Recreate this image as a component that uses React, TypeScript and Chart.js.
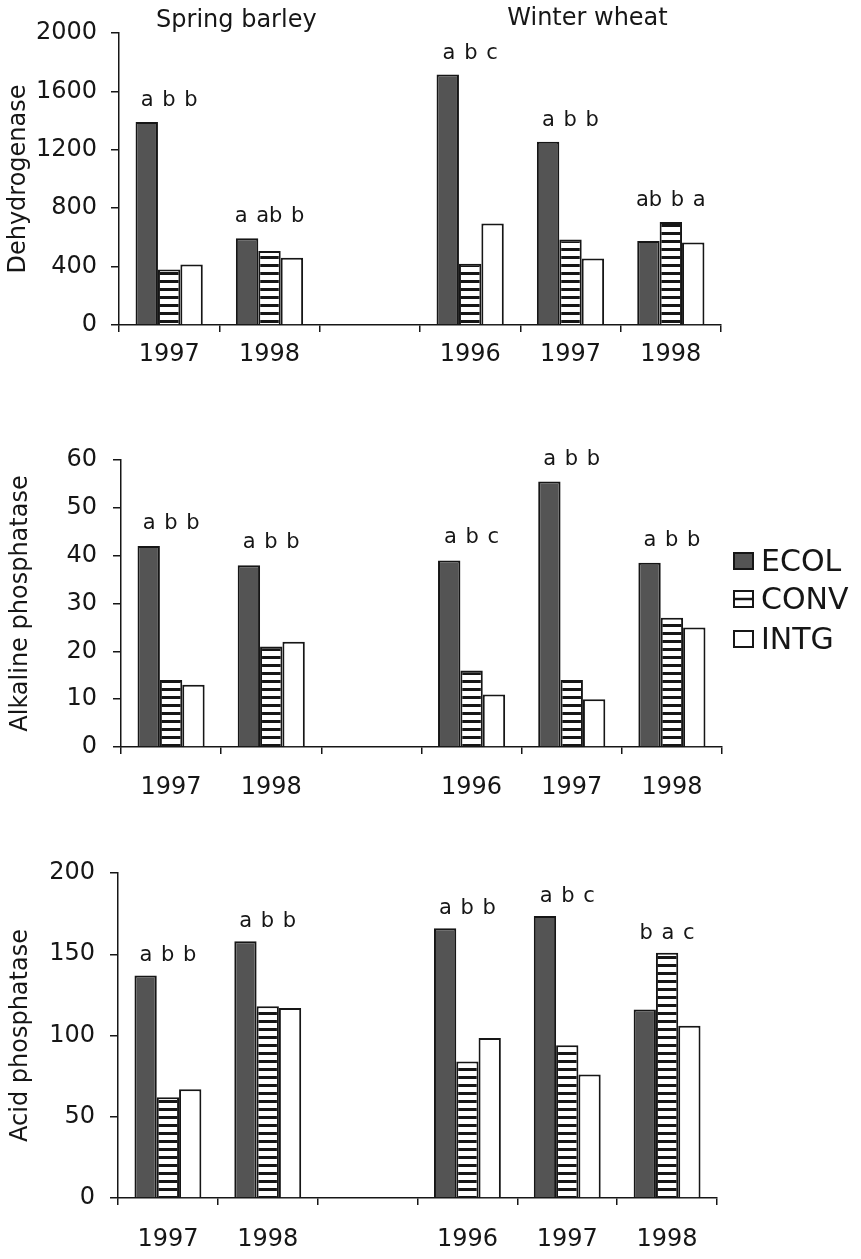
import React, { useEffect, useRef } from 'react';
import { Chart, registerables } from 'chart.js';

Chart.register(...registerables);

// ---------- data ----------
const categories = ['1997', '1998', '', '1996', '1997', '1998'];
const seriesNames = ['ECOL', 'CONV', 'INTG'];
const groupTitles = ['Spring barley', 'Winter wheat'];

const dehydTitle = 'Dehydrogenase';
const dehydEcol = [1390, 595, null, 1715, 1255, 575];
const dehydConv = [380, 507, null, 420, 585, 705];
const dehydIntg = [415, 460, null, 695, 455, 565];
const dehydLetters = ['a b b', 'a ab b', '', 'a b c', 'a b b', 'ab b a'];
const dehydMax = 2000;
const dehydStep = 400;

const alkTitle = 'Alkaline phosphatase';
const alkEcol = [42, 38, null, 39, 55.5, 38.5];
const alkConv = [14, 21, null, 16, 14, 27];
const alkIntg = [13, 22, null, 11, 10, 25];
const alkLetters = ['a b b', 'a b b', '', 'a b c', 'a b b', 'a b b'];
const alkMax = 60;
const alkStep = 10;

const acidTitle = 'Acid phosphatase';
const acidEcol = [137, 158, null, 166, 173.5, 116];
const acidConv = [62, 118, null, 84, 94, 151];
const acidIntg = [67, 117, null, 98.5, 76, 106];
const acidLetters = ['a b b', 'a b b', '', 'a b b', 'a b c', 'b a c'];
const acidMax = 200;
const acidStep = 50;

// ---------- styles ----------
const FONT = "'DejaVu Sans', 'Liberation Sans', Arial, sans-serif";
const INK = '#161616';
const DARK = '#545454';
const W = 861;

function makeStripe(): CanvasPattern | string {
  const c = document.createElement('canvas');
  c.width = 8;
  c.height = 8;
  const g = c.getContext('2d');
  if (!g) return '#fff';
  g.fillStyle = '#ffffff';
  g.fillRect(0, 0, 8, 8);
  g.fillStyle = INK;
  g.fillRect(0, 0, 8, 3);
  return g.createPattern(c, 'repeat') || '#fff';
}

type PanelCfg = {
  top: number;
  height: number;
  title: string;
  ecol: (number | null)[];
  conv: (number | null)[];
  intg: (number | null)[];
  letters: string[];
  max: number;
  step: number;
  area: { left: number; right: number; top: number; bottom: number };
  xPad: number;
  yPad: number;
  titlePad: number;
  letterGap: number;
  showGroupTitles?: boolean;
  showLegend?: boolean;
};

function Panel(p: PanelCfg) {
  const ref = useRef<HTMLCanvasElement | null>(null);

  useEffect(() => {
    const canvas = ref.current;
    if (!canvas) return;
    const stripe = makeStripe();

    const lettersPlugin = {
      id: 'sigLetters',
      afterDatasetsDraw(chart: any) {
        const ctx = chart.ctx;
        ctx.save();
        ctx.font = `21px ${FONT}`;
        ctx.fillStyle = INK;
        ctx.textAlign = 'center';
        ctx.textBaseline = 'alphabetic';
        try { (ctx as any).wordSpacing = '2px'; } catch (e) { /* ignore */ }
        p.letters.forEach((txt, i) => {
          if (!txt) return;
          let minY = Infinity;
          let minX = Infinity;
          let maxX = -Infinity;
          for (let d = 0; d < 3; d++) {
            const el: any = chart.getDatasetMeta(d).data[i];
            if (!el || !isFinite(el.y)) continue;
            minY = Math.min(minY, el.y);
            minX = Math.min(minX, el.x - el.width / 2);
            maxX = Math.max(maxX, el.x + el.width / 2);
          }
          if (!isFinite(minY)) return;
          ctx.fillText(txt, (minX + maxX) / 2, minY - p.letterGap);
        });
        ctx.restore();
      },
    };

    const titlesPlugin = {
      id: 'groupTitles',
      afterDraw(chart: any) {
        if (!p.showGroupTitles) return;
        const ctx = chart.ctx;
        const xs = chart.scales.x;
        const ca = chart.chartArea;
        ctx.save();
        ctx.font = `24px ${FONT}`;
        ctx.fillStyle = INK;
        ctx.textAlign = 'center';
        ctx.textBaseline = 'alphabetic';
        const springX = (xs.getPixelForValue(0) + xs.getPixelForValue(1)) / 2 + 17;
        const winterX = xs.getPixelForValue(4) + 17;
        ctx.fillText(groupTitles[0], springX, ca.top - 6);
        ctx.fillText(groupTitles[1], winterX, ca.top - 8);
        ctx.restore();
      },
    };

    const legendPlugin = {
      id: 'sideLegend',
      afterDraw(chart: any) {
        if (!p.showLegend) return;
        const ctx = chart.ctx;
        const ca = chart.chartArea;
        ctx.save();
        const bx = ca.right + 11;
        const rowTops = [92, 130, 170];
        ctx.font = `30px ${FONT}`;
        ctx.textBaseline = 'alphabetic';
        ctx.textAlign = 'left';
        seriesNames.forEach((name, k) => {
          const y = ca.top + rowTops[k];
          ctx.lineWidth = 2;
          ctx.strokeStyle = INK;
          ctx.fillStyle = k === 0 ? DARK : '#ffffff';
          ctx.fillRect(bx, y, 21, 18);
          ctx.strokeRect(bx + 1, y + 1, 19, 16);
          if (k === 1) {
            ctx.beginPath();
            ctx.moveTo(bx, y + 9);
            ctx.lineTo(bx + 21, y + 9);
            ctx.lineWidth = 2.5;
            ctx.stroke();
          }
          ctx.fillStyle = INK;
          ctx.fillText(name, bx + 28, y + 19);
        });
        ctx.restore();
      },
    };

    const xHeight = p.height - 2 - p.area.bottom;

    const chart = new Chart(canvas, {
      type: 'bar',
      data: {
        labels: categories,
        datasets: [
          { label: seriesNames[0], data: p.ecol as any, backgroundColor: DARK, borderColor: INK, borderWidth: 2 },
          { label: seriesNames[1], data: p.conv as any, backgroundColor: stripe as any, borderColor: INK, borderWidth: 2 },
          { label: seriesNames[2], data: p.intg as any, backgroundColor: '#ffffff', borderColor: INK, borderWidth: 2 },
        ],
      },
      options: {
        responsive: false,
        maintainAspectRatio: false,
        animation: false,
        events: [],
        layout: { padding: { top: p.area.top, left: 0, right: W - p.area.right, bottom: 2 } },
        datasets: { bar: { categoryPercentage: 0.67, barPercentage: 1 } } as any,
        plugins: { legend: { display: false }, tooltip: { enabled: false }, title: { display: false } },
        scales: {
          x: {
            grid: { offset: true, drawOnChartArea: false, color: INK, lineWidth: 1.5, tickLength: 7 },
            border: { display: true, color: INK, width: 1.5 },
            ticks: { color: INK, font: { family: FONT, size: 24 }, padding: p.xPad, maxRotation: 0, autoSkip: false },
            afterFit: (s: any) => { s.height = xHeight; },
          },
          y: {
            min: 0,
            max: p.max,
            ticks: {
              stepSize: p.step,
              color: INK,
              font: { family: FONT, size: 24 },
              padding: p.yPad,
              callback: (v: any) => String(v),
            },
            grid: { drawOnChartArea: false, color: INK, lineWidth: 1.5, tickLength: 8 },
            border: { display: true, color: INK, width: 1.5 },
            title: { display: true, text: p.title, color: INK, font: { family: FONT, size: 24 }, padding: { top: p.titlePad, bottom: 0 } },
            afterFit: (s: any) => { s.width = p.area.left; },
          },
        },
      },
      plugins: [lettersPlugin, titlesPlugin, legendPlugin],
    });

    return () => { chart.destroy(); };
  }, []);

  return (
    <canvas
      ref={ref}
      width={W}
      height={p.height}
      style={{ position: 'absolute', left: 0, top: p.top, width: W, height: p.height }}
    />
  );
}

export default function App() {
  return (
    <div style={{ position: 'absolute', left: 0, top: 0, width: W, height: 1259, background: '#ffffff', overflow: 'hidden' }}>
      <Panel
        top={0}
        height={400}
        title={dehydTitle}
        ecol={dehydEcol}
        conv={dehydConv}
        intg={dehydIntg}
        letters={dehydLetters}
        max={dehydMax}
        step={dehydStep}
        area={{ left: 119, right: 721, top: 33, bottom: 325 }}
        xPad={8}
        yPad={14}
        titlePad={4}
        letterGap={16}
        showGroupTitles
      />
      <Panel
        top={400}
        height={420}
        title={alkTitle}
        ecol={alkEcol}
        conv={alkConv}
        intg={alkIntg}
        letters={alkLetters}
        max={alkMax}
        step={alkStep}
        area={{ left: 121, right: 722, top: 60, bottom: 347 }}
        xPad={19}
        yPad={16}
        titlePad={6}
        letterGap={17}
        showLegend
      />
      <Panel
        top={820}
        height={439}
        title={acidTitle}
        ecol={acidEcol}
        conv={acidConv}
        intg={acidIntg}
        letters={acidLetters}
        max={acidMax}
        step={acidStep}
        area={{ left: 118, right: 717, top: 53, bottom: 378 }}
        xPad={20}
        yPad={15}
        titlePad={6}
        letterGap={14}
      />
    </div>
  );
}
